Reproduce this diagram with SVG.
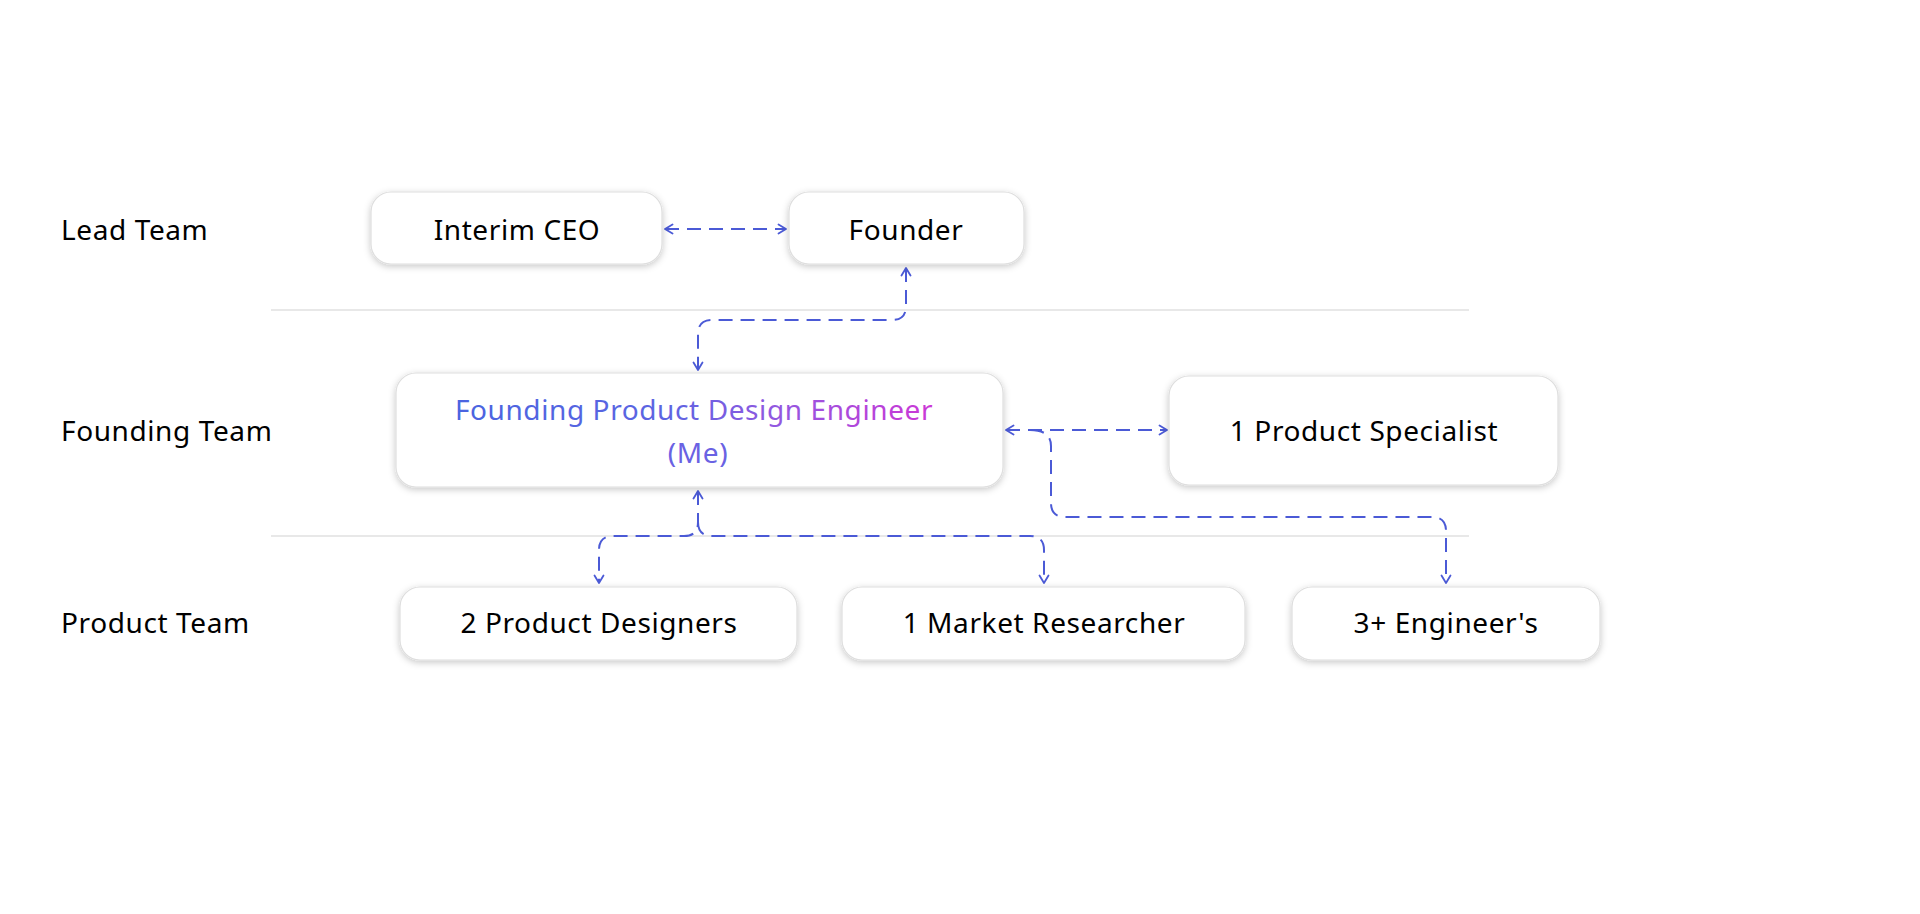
<svg xmlns="http://www.w3.org/2000/svg" width="1920" height="914" viewBox="0 0 1920 914">
<defs>
<style>
.lbl{font-family:"Noto Sans","Lato",sans-serif;font-size:28px;letter-spacing:0.6px;fill:#000;dominant-baseline:central}
.ntx{font-family:"Noto Sans","Lato",sans-serif;font-size:28px;letter-spacing:0.6px;fill:#000;text-anchor:middle;dominant-baseline:central}
.box{fill:#fff;stroke:#dedede;stroke-width:1.2;filter:url(#sh)}
.sep{stroke:#d2d2d2;stroke-width:1.2}
.con{fill:none;stroke:#4B5AD6;stroke-width:2;stroke-dasharray:14 8}
</style>
<filter id="sh" x="-10%" y="-20%" width="120%" height="150%">
<feDropShadow dx="0" dy="2" stdDeviation="3.5" flood-color="#000" flood-opacity="0.22"/>
</filter>
<marker id="ah" viewBox="0 0 12 12" refX="10.5" refY="6" markerWidth="12" markerHeight="12" markerUnits="userSpaceOnUse" orient="auto-start-reverse">
<path d="M3 1.5 L10.5 6 L3 10.5" fill="none" stroke="#4B5AD6" stroke-width="1.8" stroke-linecap="round" stroke-linejoin="round"/>
</marker>
<linearGradient id="tg" gradientUnits="userSpaceOnUse" x1="456" y1="0" x2="932" y2="0">
<stop offset="0" stop-color="#4A64E0"/>
<stop offset="0.45" stop-color="#5E64E2"/>
<stop offset="0.68" stop-color="#9457E0"/>
<stop offset="1" stop-color="#CB38D6"/>
</linearGradient>
</defs>
<rect width="1920" height="914" fill="#fff"/>
<g id="separators">
<line class="sep" x1="271" y1="310" x2="1469" y2="310"/>
<line class="sep" x1="271" y1="536" x2="1469" y2="536"/>
</g>
<g id="row-labels">
<text class="lbl" x="61" y="229">Lead Team</text>
<text class="lbl" x="61" y="430">Founding Team</text>
<text class="lbl" x="61" y="622">Product Team</text>
</g>
<g id="connectors">
<path class="con" d="M665 229 L786 229" marker-start="url(#ah)" marker-end="url(#ah)"/>
<path class="con" d="M906 268 L906 306 Q906 320 892 320 L712 320 Q698 320 698 334 L698 370" marker-start="url(#ah)" marker-end="url(#ah)"/>
<path class="con" d="M1006 430 L1167 430" marker-start="url(#ah)" marker-end="url(#ah)"/>
<path class="con" d="M1030 430 Q1051 430 1051 446 L1051 503 Q1051 517 1065 517 L1432 517 Q1446 517 1446 531 L1446 583" marker-end="url(#ah)"/>
<path class="con" d="M698 491 L698 522 Q698 536 684 536 L613 536 Q599 536 599 550 L599 583" marker-start="url(#ah)" marker-end="url(#ah)"/>
<path class="con" d="M698 522 Q698 536 712 536 L1030 536 Q1044 536 1044 550 L1044 583" marker-end="url(#ah)"/>
</g>
<g id="node-interim-ceo">
<rect class="box" x="371" y="192" width="291" height="72" rx="20"/>
<text class="ntx" x="517" y="229">Interim CEO</text>
</g>
<g id="node-founder">
<rect class="box" x="789" y="192" width="235" height="72" rx="20"/>
<text class="ntx" x="906" y="229">Founder</text>
</g>
<g id="node-me">
<rect class="box" x="396" y="373" width="607" height="114" rx="20"/>
<text class="ntx" x="694" y="409" style="fill:url(#tg)">Founding Product Design Engineer</text>
<text class="ntx" x="698" y="452" style="fill:#6A62E3">(Me)</text>
</g>
<g id="node-product-specialist">
<rect class="box" x="1169" y="376" width="389" height="109" rx="20"/>
<text class="ntx" x="1364" y="430">1 Product Specialist</text>
</g>
<g id="node-product-designers">
<rect class="box" x="400" y="587" width="397" height="73" rx="20"/>
<text class="ntx" x="599" y="622">2 Product Designers</text>
</g>
<g id="node-market-researcher">
<rect class="box" x="842" y="587" width="403" height="73" rx="20"/>
<text class="ntx" x="1044" y="622">1 Market Researcher</text>
</g>
<g id="node-engineers">
<rect class="box" x="1292" y="587" width="308" height="73" rx="20"/>
<text class="ntx" x="1446" y="622">3+ Engineer's</text>
</g>
</svg>
